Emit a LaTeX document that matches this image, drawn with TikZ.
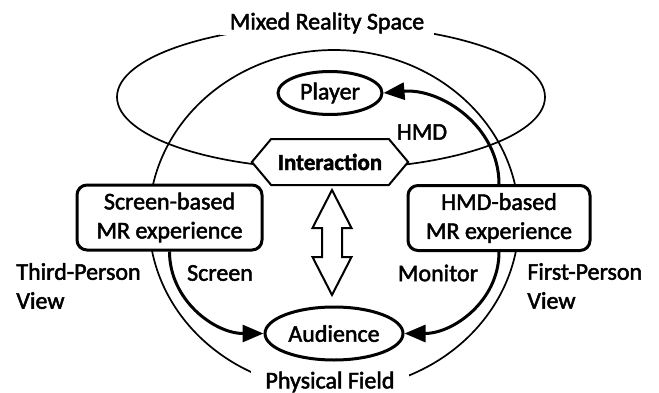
\documentclass[tikz,border=0pt]{standalone}
\usepackage{fontspec}
\setmainfont{Carlito}[FakeBold=2]
\usetikzlibrary{shapes.geometric,shapes.symbols,arrows.meta}

\begin{document}
\begin{tikzpicture}[x=0.5pt,y=0.5pt,
    font=\fontsize{12}{14.5}\selectfont,
    thinline/.style={line width=0.85pt},
    mrbox/.style={draw,line width=1.5pt,rounded corners=5pt,fill=white,align=center,minimum width=92.5pt,minimum height=32.5pt},
    actor/.style={draw,ellipse,line width=1.5pt,fill=white,inner sep=0pt},
    flow/.style={line width=1.5pt,-{Triangle[length=10.5pt,width=8.5pt]}},
    cutlabel/.style={fill=white,inner ysep=1pt}]
  \useasboundingbox (0,0) rectangle (659,392);
  % the two spaces
  \draw[thinline] (331,295) ellipse [x radius=214, y radius=72];
  \draw[thinline] (334,172) ellipse [x radius=185, y radius=170];
  \node[cutlabel,inner xsep=5pt] (mrspace) at (327,369) {Mixed Reality Space};
  \node[cutlabel,inner xsep=7pt] (field) at (330,10) {Physical Field};

  \node[actor,minimum width=52pt,minimum height=21.5pt] (player) at (330,299) {Player};
  \node[signal,signal to=west and east,signal pointer angle=100,draw,line width=1pt,fill=white,
        font=\fontsize{11.5}{14}\selectfont\bfseries,minimum width=77.5pt,minimum height=23pt] (inter) at (330,230) {Interaction};
  \node[mrbox] (screenmr) at (169.5,174.5) {Screen-based\\MR experience};
  \node[mrbox,minimum width=91pt] (hmdmr) at (499,174) {HMD-based\\MR experience};
  \node[actor,minimum width=69pt,minimum height=26.5pt] (audience) at (334,58.5) {Audience};

  % two-way arrow between interaction and audience
  \coordinate (sync) at (332,149.5);
  \draw[line width=1pt,fill=white] (sync) ++(0,52.5) -- ++(-19.5,-38) -- ++(9.5,0) -- ++(0,-29)
    -- ++(-9.5,0) -- ++(19.5,-38) -- ++(19.5,38) -- ++(-9.5,0) -- ++(0,29) -- ++(9.5,0) -- cycle;

  % media
  \draw[flow] (hmdmr.north) to[out=90,in=5] (player.east);
  \draw[flow] (screenmr.south) to[out=-90,in=180] (audience.west);
  \draw[flow] (hmdmr.south) to[out=-90,in=0] (audience.east);

  \node (hmdlbl) at (422,260) {HMD};
  \node (screenlbl) at (220,119) {Screen};
  \node (monitorlbl) at (438,119) {Monitor};
  \node[align=left,anchor=west,inner sep=0pt] (thirdpv) at (16,106) {Third-Person\\View};
  \node[align=left,anchor=west,inner sep=0pt] (firstpv) at (527,106) {First-Person\\View};
\end{tikzpicture}
\end{document}
